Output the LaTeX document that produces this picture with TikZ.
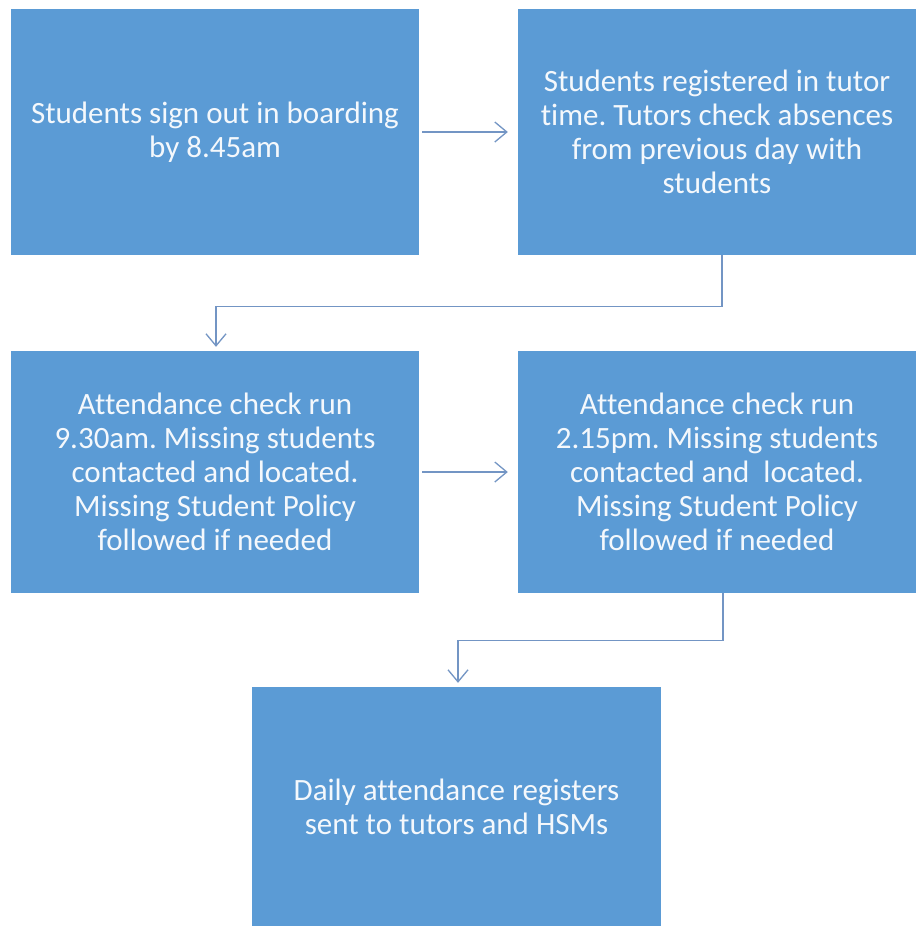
\documentclass[tikz,border=0pt]{standalone}
\usepackage{fontspec}
\setmainfont{Carlito}[Ligatures=NoCommon]
\usetikzlibrary{arrows.meta}
\definecolor{boxblue}{HTML}{5B9BD5}
\definecolor{linkblue}{HTML}{7395C4}
\definecolor{txtwhite}{HTML}{F4F8FC}
\frenchspacing
\begin{document}
\begin{tikzpicture}[x=1pt,y=-1pt,
  stepbox/.style={rectangle, fill=boxblue, draw=none, inner sep=0pt,
    text=txtwhite, align=center, font=\fontsize{31}{34}\selectfont},
  arr/.style={draw=linkblue, line width=1.3pt,
    -{Straight Barb[length=12pt,width=20pt,line width=1.3pt]}}]
\useasboundingbox[fill=white] (0,0) rectangle (917,926);
\node[stepbox, minimum width=408pt, minimum height=246pt] (b1) at (215,132)
  {Students sign out in boarding\\by 8.45am};
\node[stepbox, minimum width=398pt, minimum height=246pt] (b2) at (717,132)
  {Students registered in tutor\\time. Tutors check absences\\from previous day with\\students};
\node[stepbox, minimum width=408pt, minimum height=242pt] (b3) at (215,472)
  {Attendance check run\\9.30am. Missing students\\contacted and located.\\Missing Student Policy\\followed if needed};
\node[stepbox, minimum width=398pt, minimum height=242pt] (b4) at (717,472)
  {Attendance check run\\2.15pm. Missing students\\contacted and\ \ located.\\Missing Student Policy\\followed if needed};
\node[stepbox, minimum width=409pt, minimum height=239pt] (b5) at (456.5,806.5)
  {Daily attendance registers\\sent to tutors and HSMs};
\draw[arr] ([xshift=3pt]b1.east) -- ([xshift=-10pt]b2.west);
\draw[arr] ([xshift=5pt]b2.south) -- ++(0,51) -| ([xshift=1pt,yshift=4pt]b3.north);
\draw[arr] ([xshift=3pt]b3.east) -- ([xshift=-10pt]b4.west);
\draw[arr] ([xshift=6pt]b4.south) -- ++(0,47) -| ([xshift=1.5pt,yshift=4pt]b5.north);
\end{tikzpicture}
\end{document}
